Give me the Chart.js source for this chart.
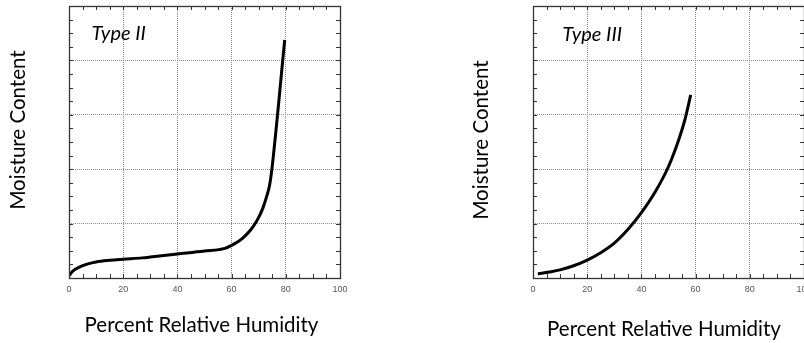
<!DOCTYPE html>
<html>
<head>
<meta charset="utf-8">
<script src="https://cdn.jsdelivr.net/npm/chart.js@4/dist/chart.umd.min.js"></script>
<style>
  html, body { margin: 0; padding: 0; background: #fff; overflow: hidden; width: 804px; height: 343px; }
  #c1 { position: absolute; left: 0; top: 0; }
  #c2 { position: absolute; left: 400px; top: 0; }
</style>
</head>
<body>
<canvas id="c1" width="400" height="343"></canvas>
<canvas id="c2" width="420" height="343"></canvas>
<script>
// ---- data ----
const typeIIHumidity = [0, 1.5, 4, 7, 10, 15, 20, 27, 30, 40, 50, 57.5, 60, 62, 64, 66, 68, 70, 71.5, 73, 74, 74.8, 79.6];
const typeIIMoisture = [0.9, 2.6, 4.1, 5.2, 5.9, 6.5, 6.9, 7.4, 7.7, 8.8, 9.9, 10.9, 12.0, 13.1, 14.6, 16.5, 19.0, 22.3, 25.6, 30.2, 34.0, 39.5, 87.5];
const typeIIIHumidity = [1.8, 6, 10, 15, 20, 25, 30, 35, 40, 45, 50, 54, 56, 58.2];
const typeIIIMoisture = [1.5, 2.2, 3.0, 4.5, 6.6, 9.3, 12.8, 17.8, 24.0, 31.5, 41.0, 51.5, 58.0, 67.3];
const xTickLabels = [0, 20, 40, 60, 80, 100];
const panelLabels = ['Type II', 'Type III'];
const xTitle = 'Percent Relative Humidity';
const yTitle = 'Moisture Content';

const TITLE_FONT = 'Lato';

// inward minor ticks, frame, panel label and axis titles
const framePlugin = {
  id: 'frame',
  afterDraw(chart, args, opts) {
    const {ctx, chartArea: a, scales: {x, y}} = chart;
    ctx.save();
    ctx.strokeStyle = '#333';
    ctx.lineWidth = 1;
    const L = 4;
    ctx.beginPath();
    for (let v = 0; v <= 100; v += 5) {
      const px = Math.round(x.getPixelForValue(v)) + 0.5;
      ctx.moveTo(px, a.bottom); ctx.lineTo(px, a.bottom - L);
      ctx.moveTo(px, a.top); ctx.lineTo(px, a.top + L);
      const py = Math.round(y.getPixelForValue(v)) + 0.5;
      ctx.moveTo(a.left, py); ctx.lineTo(a.left + L, py);
      ctx.moveTo(a.right, py); ctx.lineTo(a.right - L, py);
    }
    ctx.stroke();
    ctx.lineWidth = 1.3;
    ctx.strokeRect(Math.round(a.left) + 0.5, Math.round(a.top) + 0.5,
                   Math.round(a.right - a.left), Math.round(a.bottom - a.top));
    // panel label
    ctx.fillStyle = '#000';
    ctx.font = 'italic 20px ' + TITLE_FONT;
    ctx.textAlign = 'left';
    ctx.textBaseline = 'alphabetic';
    ctx.fillText(opts.text, x.getPixelForValue(opts.lx), y.getPixelForValue(opts.ly));
    // axis titles
    ctx.font = '20.5px ' + TITLE_FONT;
    ctx.textAlign = 'center';
    ctx.textBaseline = 'middle';
    const cx = (a.left + a.right) / 2, cy = (a.top + a.bottom) / 2;
    ctx.fillText(xTitle, cx + opts.xdx, opts.xy);
    ctx.translate(opts.yx, cy + opts.ydy);
    ctx.rotate(-Math.PI / 2);
    ctx.fillText(yTitle, 0, 0);
    ctx.restore();
  }
};

function makeChart(id, xs, ys, cfg) {
  const pts = xs.map((v, i) => ({x: v, y: ys[i]}));
  return new Chart(document.getElementById(id), {
    type: 'line',
    data: { datasets: [{
      data: pts,
      borderColor: '#000',
      borderWidth: 3,
      pointRadius: 0,
      cubicInterpolationMode: 'monotone',
      fill: false
    }]},
    options: {
      responsive: false,
      animation: false,
      events: [],
      layout: { padding: { top: 6, right: cfg.padRight, left: 0, bottom: 0 } },
      plugins: {
        legend: { display: false },
        tooltip: { enabled: false },
        frame: cfg.frame
      },
      scales: {
        x: {
          type: 'linear', min: 0, max: 100,
          afterBuildTicks: s => { s.ticks = xTickLabels.map(v => ({value: v})); },
          afterFit: s => { s.height = 65; },
          grid: { color: '#8a8a8a', lineWidth: 1, drawTicks: false },
          border: { display: false, dash: [1, 1] },
          ticks: { color: '#555', font: { family: 'Liberation Sans', size: 9 }, padding: 6, maxRotation: 0 },
          title: { display: false }
        },
        y: {
          type: 'linear', min: 0, max: 100,
          afterBuildTicks: s => { s.ticks = xTickLabels.map(v => ({value: v})); },
          afterFit: s => { s.width = cfg.yWidth; },
          grid: { color: '#8a8a8a', lineWidth: 1, drawTicks: false },
          border: { display: false, dash: [1, 1] },
          ticks: { display: false },
          title: { display: false }
        }
      }
    },
    plugins: [framePlugin]
  });
}

makeChart('c1', typeIIHumidity, typeIIMoisture, {
  padRight: 60, yWidth: 69,
  frame: { text: panelLabels[0], lx: 8.3, ly: 87.5, xdx: -3, xy: 325, yx: 18, ydy: -12 }
});
makeChart('c2', typeIIIHumidity, typeIIIMoisture, {
  padRight: 16, yWidth: 133,
  frame: { text: panelLabels[1], lx: 10.8, ly: 87.2, xdx: -4.5, xy: 329, yx: 81, ydy: -2 }
});
</script>
</body>
</html>
